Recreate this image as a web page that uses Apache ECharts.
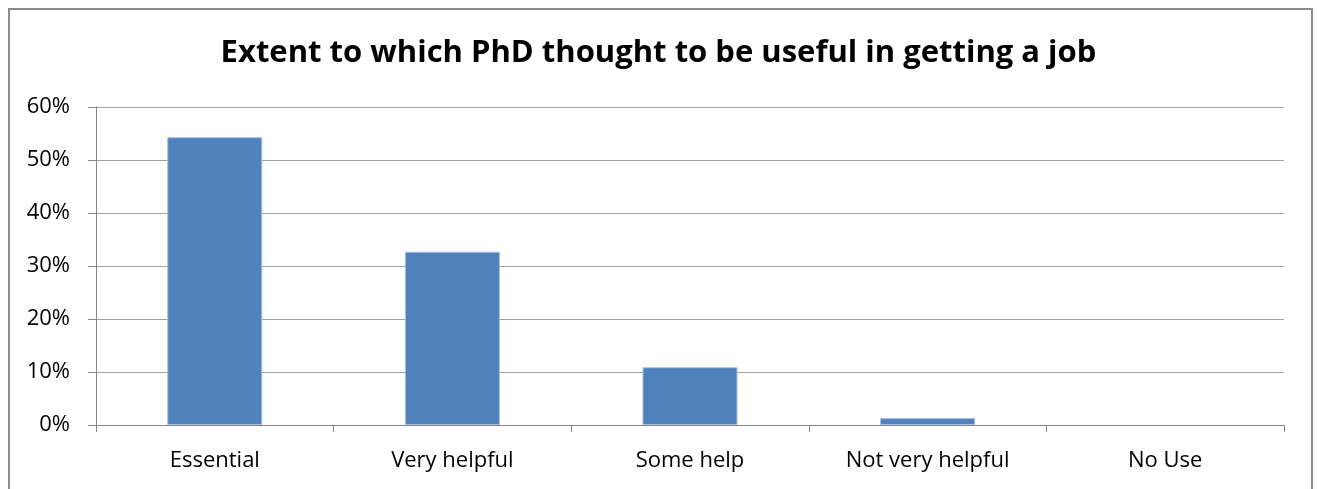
<!DOCTYPE html>
<html><head><meta charset="utf-8">
<script src="https://cdn.jsdelivr.net/npm/echarts@6/dist/echarts.min.js"></script>
<style>html,body{margin:0;padding:0;background:#fff}#frame{position:absolute;left:8px;top:8px;width:1305px;height:490px;border:2px solid #8c8c8c;box-sizing:border-box}#c{position:absolute;left:0;top:0;width:1317px;height:489px}</style>
</head><body><div id="frame"></div><div id="c"></div>
<script>
const titleText = 'Extent to which PhD thought to be useful in getting a job';
const categories = ['Essential', 'Very helpful', 'Some help', 'Not very helpful', 'No Use'];
const values = [54.3, 32.7, 10.9, 1.3, 0];
const yTicks = [0, 10, 20, 30, 40, 50, 60];

const chart = echarts.init(document.getElementById('c'), null, {renderer: 'canvas'});
chart.setOption({
  animation: false,
  title: {text: titleText, left: 'center', top: 33,
    textStyle: {fontFamily: 'Open Sans', fontWeight: 'bold', fontSize: 31, color: '#000'}},
  grid: {left: 96, right: 33, top: 107, bottom: 64, containLabel: false},
  xAxis: {type: 'category', data: categories,
    axisLine: {lineStyle: {color: '#868686', width: 1}},
    axisTick: {show: true, alignWithLabel: false, length: 7, lineStyle: {color: '#868686'}},
    axisLabel: {color: '#000', fontFamily: 'Open Sans', fontSize: 22, margin: 25}},
  yAxis: {type: 'value', min: yTicks[0], max: yTicks[yTicks.length - 1], interval: 10,
    axisLine: {show: true, lineStyle: {color: '#868686'}},
    axisTick: {show: true, length: 8, inside: false, lineStyle: {color: '#868686'}},
    axisLabel: {color: '#000', fontFamily: 'Open Sans', fontSize: 22, margin: 26, formatter: v => v + '%'},
    splitLine: {lineStyle: {color: '#a0a0a0', width: 1}}},
  series: [{type: 'bar', barWidth: '40%',
    data: values.map(v => v === 0 ? {value: v, itemStyle: {borderWidth: 0}} : v),
    itemStyle: {color: '#4F81BD', borderColor: '#a9c1e0', borderWidth: 1}}]
});
</script></body></html>
